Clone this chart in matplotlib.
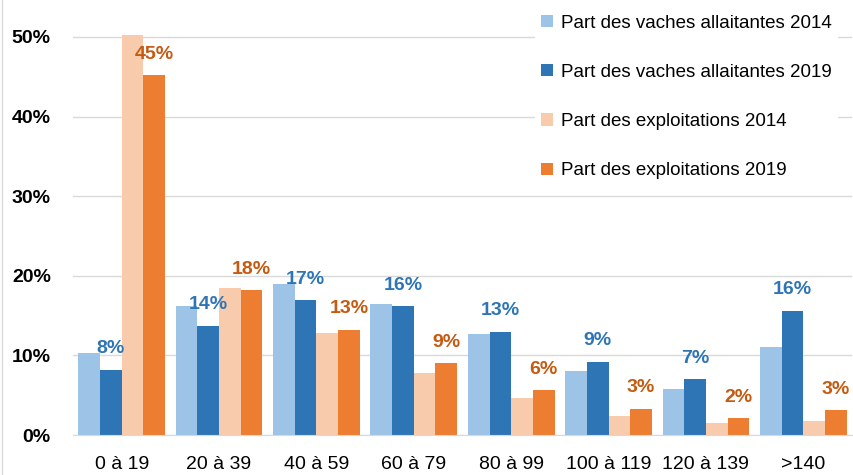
import matplotlib
matplotlib.use("Agg")
import matplotlib.pyplot as plt
import numpy as np
from matplotlib.lines import Line2D

plt.rcParams['font.family'] = ['Liberation Sans', 'DejaVu Sans']

# classes de taille (nombre de vaches allaitantes)
categories = ["0 à 19", "20 à 39", "40 à 59", "60 à 79", "80 à 99", "100 à 119", "120 à 139", ">140"]

vaches_2014 = [10.3, 16.2, 19.0, 16.4, 12.7, 8.0, 5.8, 11.0]
vaches_2019 = [8.2, 13.7, 16.9, 16.2, 13.0, 9.2, 7.0, 15.6]
exploit_2014 = [50.3, 18.5, 12.8, 7.8, 4.6, 2.4, 1.5, 1.8]
exploit_2019 = [45.2, 18.2, 13.2, 9.0, 5.6, 3.3, 2.1, 3.1]

series_names = ["Part des vaches allaitantes 2014", "Part des vaches allaitantes 2019",
                "Part des exploitations 2014", "Part des exploitations 2019"]
colors = ["#9DC3E6", "#2E75B6", "#F8CBAD", "#ED7D31"]

fig = plt.figure(figsize=(8.54, 4.75), dpi=100)
ax = fig.add_axes([73 / 854, 40 / 475, 779 / 854, 435 / 475])

x = np.arange(len(categories))
w = 0.2225
series = [vaches_2014, vaches_2019, exploit_2014, exploit_2019]
bars = []
for i, (vals, c, name) in enumerate(zip(series, colors, series_names)):
    b = ax.bar(x + (i - 1.5) * w, np.array(vals) / 100, width=w, color=c, label=name, zorder=2)
    bars.append(b)

# étiquettes sur les séries 2019
for b, vals, lc in [(bars[1], vaches_2019, "#2E75B6"), (bars[3], exploit_2019, "#C55A11")]:
    for rect, v in zip(b, vals):
        ax.annotate(f"{v:.0f}%", (rect.get_x() + rect.get_width() / 2, rect.get_height()),
                    xytext=(0, 9), textcoords="offset points", ha="center", va="bottom",
                    fontsize=14, fontweight="bold", color=lc, zorder=3)

ax.set_xlim(-0.5, len(categories) - 0.5)
ax.set_ylim(0, 0.5 * 435 / 398)
ax.set_yticks([0, 0.1, 0.2, 0.3, 0.4, 0.5])
ax.set_yticklabels(["0%", "10%", "20%", "30%", "40%", "50%"], fontsize=14, fontweight="bold")
ax.set_xticks(x)
ax.set_xticklabels(categories, fontsize=14)
ax.tick_params(axis="y", length=0, pad=16)
ax.tick_params(axis="x", length=0, pad=15)

ax.grid(axis="y", color="#D9D9D9", linewidth=1, zorder=0)
for s in ["left", "right", "top"]:
    ax.spines[s].set_visible(False)
ax.spines["bottom"].set_color("#D9D9D9")

leg = ax.legend(loc="upper left", fontsize=13.5, frameon=True, fancybox=False,
                edgecolor="white", framealpha=1,
                handlelength=0.64, handleheight=0.64, handletextpad=0.45, labelspacing=1.72,
                borderpad=0.3, borderaxespad=0)
leg.set_bbox_to_anchor((535 / 854, 1 - 9 / 475), transform=fig.transFigure)
leg.set_zorder(4)

fig.add_artist(Line2D([2 / 854, 2 / 854], [0, 1], color="#D9D9D9", linewidth=1))

fig.savefig("out.png", dpi=100)
